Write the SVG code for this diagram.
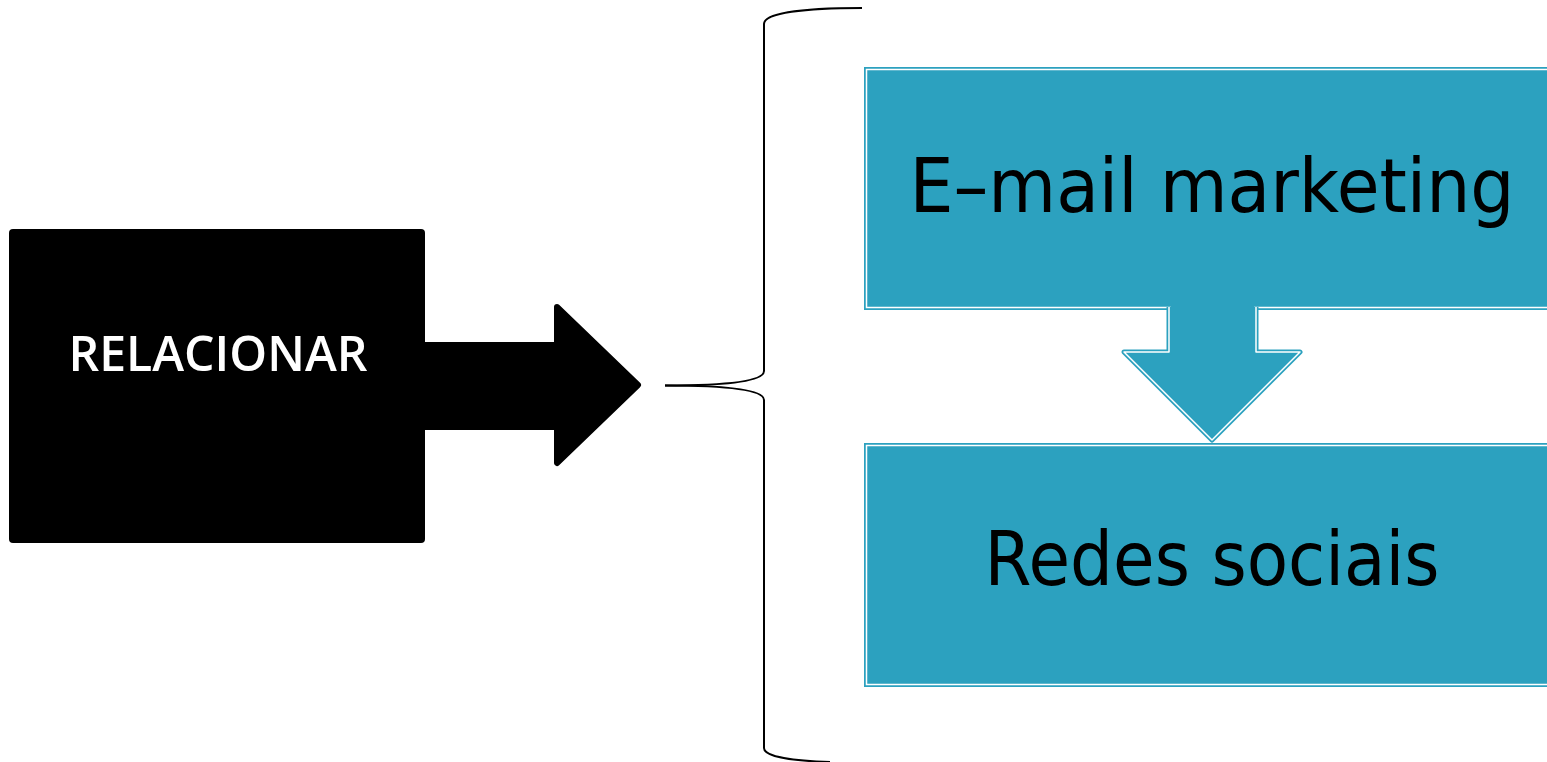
<svg xmlns="http://www.w3.org/2000/svg" width="1547" height="762" viewBox="0 0 1547 762">
<style>
.box{fill:#2CA1BF}
.inner{fill:none;stroke:#fff;stroke-width:1.5}
.t{font-family:"DejaVu Sans","Liberation Sans",sans-serif;fill:#000}
.brace{fill:none;stroke:#000;stroke-width:2}
</style>
<rect width="1547" height="762" fill="#fff"/>
<g id="relacionar">
<rect x="9" y="229" width="416" height="314" rx="4" fill="#000"/>
<polygon points="420,345 557,345 557,307 638,385 557,463 557,427 420,427" fill="#000" stroke="#000" stroke-width="6" stroke-linejoin="round"/>
<text x="218" y="371" text-anchor="middle" font-size="48" font-weight="600" textLength="299" lengthAdjust="spacingAndGlyphs" font-family="Open Sans, DejaVu Sans, sans-serif" fill="#fff">RELACIONAR</text>
</g>
<g id="connectors">
<path class="brace" d="M665,385.5 C730,385.5 764,381 764,371 L764,24 C764,13 805,8 862,8"/>
<path class="brace" d="M665,385.5 C730,385.5 764,390 764,400 L764,748 C764,757 795,761 830,762"/>
</g>
<g id="email">
<rect class="box" x="864" y="67" width="700" height="243"/>
<rect class="inner" x="866.5" y="69.5" width="700" height="238"/>
<text class="t" x="1212" y="212" text-anchor="middle" font-size="74" textLength="605" lengthAdjust="spacingAndGlyphs">E–mail marketing</text>
</g>
<g id="redes">
<rect class="box" x="864" y="443" width="700" height="244"/>
<rect class="inner" x="866.5" y="445.5" width="700" height="239"/>
<text class="t" x="1212" y="585" text-anchor="middle" font-size="74" textLength="455" lengthAdjust="spacingAndGlyphs">Redes sociais</text>
</g>
<g id="down-arrow">
<path d="M1169,307 L1169,352 L1124,352 L1212,440 L1300,352 L1256,352 L1256,307" fill="#2CA1BF" stroke="#2CA1BF" stroke-width="5" stroke-linejoin="round"/>
<path d="M1169,307 L1169,352 L1124,352 L1212,440 L1300,352 L1256,352 L1256,307" fill="none" stroke="#fff" stroke-width="1.5" stroke-linejoin="round"/>
<rect x="1171" y="303" width="83" height="9" fill="#2CA1BF"/>
</g>
</svg>
